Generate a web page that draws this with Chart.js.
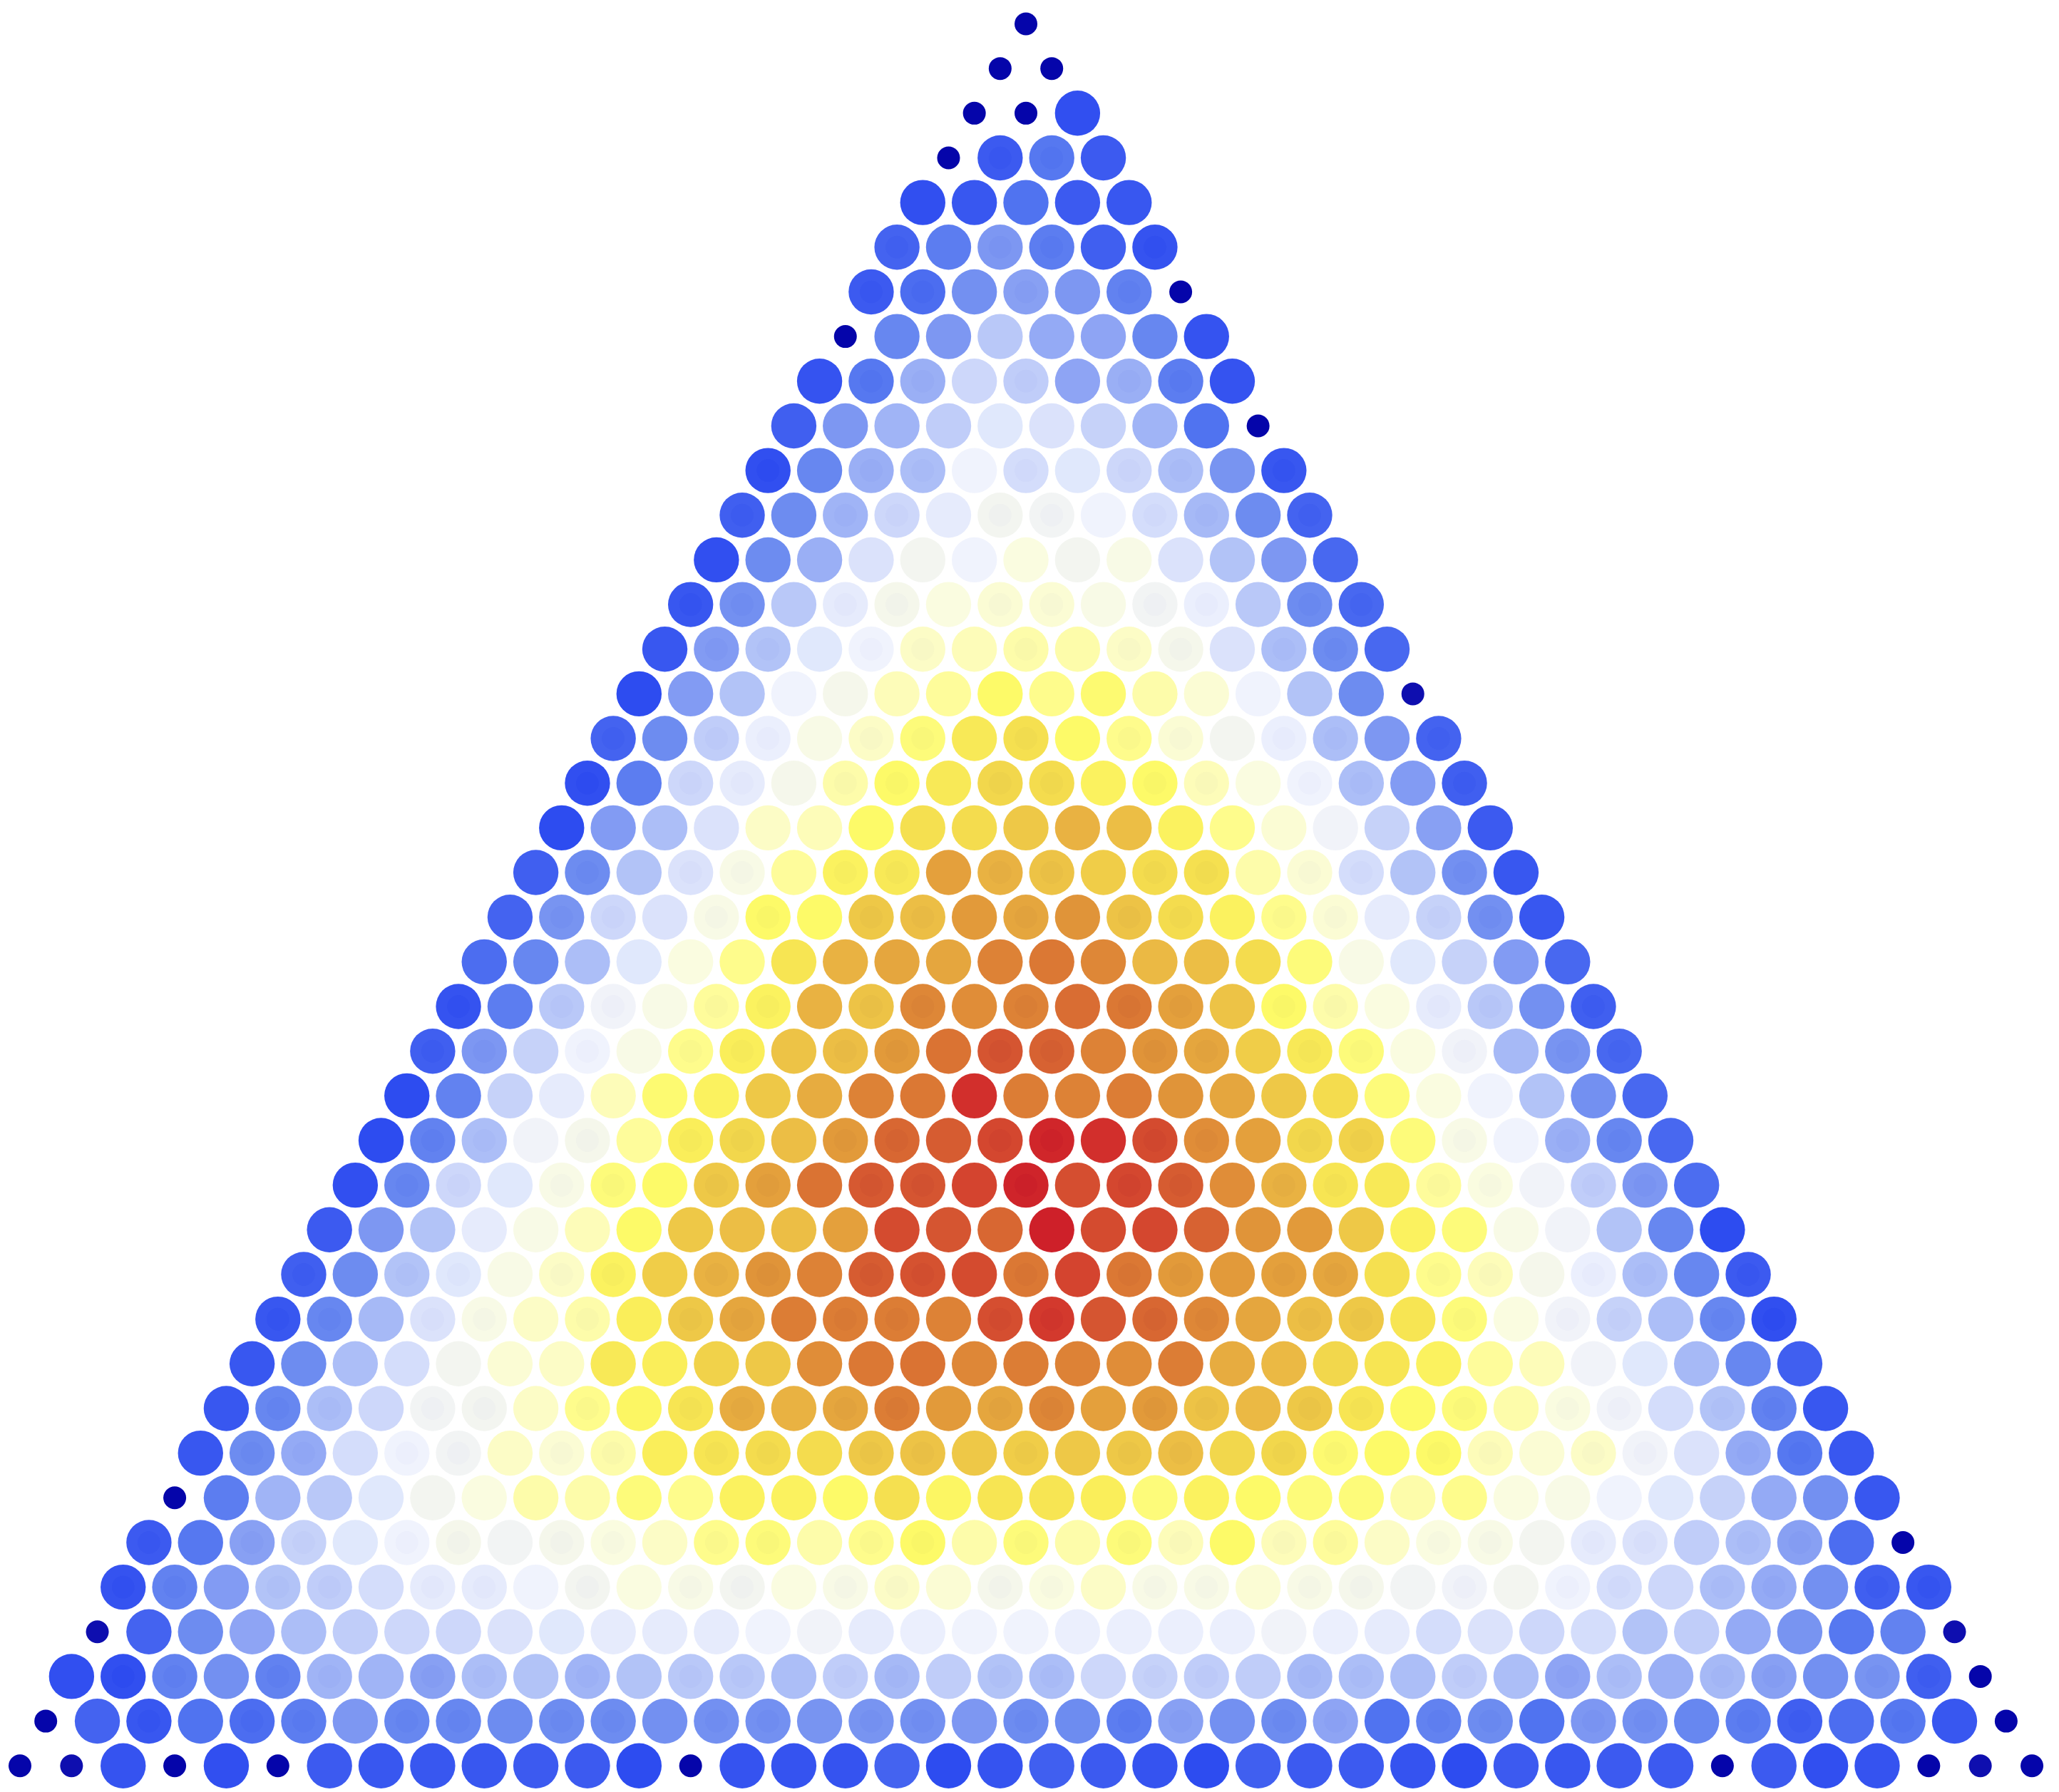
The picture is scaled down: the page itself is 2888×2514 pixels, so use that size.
<!DOCTYPE html>
<html><head><meta charset="utf-8">
<style>html,body{margin:0;padding:0;background:#fff}canvas{display:block}</style>
<script src="https://cdn.jsdelivr.net/npm/chart.js@4/dist/chart.umd.min.js"></script>
</head><body><canvas id="c" width="2888" height="2514"></canvas>
<script>
const D=-1, E=-2; // cells holding only the small dark dot
const row00=[D];
const row01=[D,D];
const row02=[D,D,1];
const row03=[D,4,10,4];
const row04=[1,3,9,4,3];
const row05=[6,11,17,11,5,2];
const row06=[4,8,15,19,17,12,D];
const row07=[D,13,17,27,21,20,13,2];
const row08=[2,10,22,30,28,20,22,11,2];
const row09=[5,17,23,28,33,32,29,23,9,D];
const row10=[1,13,22,25,36,31,33,30,25,16,3];
const row11=[5,14,23,30,34,39,38,36,31,24,14,6];
const row12=[1,14,22,32,39,36,42,39,41,32,26,17,7];
const row13=[3,15,27,34,40,42,43,43,41,38,35,27,14,7];
const row14=[3,18,26,33,36,44,45,46,46,44,40,32,25,14,7];
const row15=[0,18,26,36,40,45,47,50,48,49.5,46,43,36,26,14,E];
const row16=[6,14,28,35,41,44,49,54,56,50,48,43,39,35,25,17,6];
const row17=[1,11,30,34,40,46,50,54,58,57,52,50,45,42,36,25,18,5];
const row18=[0,18,25,32,44,45,50,56,57,61,65,63,52,48,43,37,29,19,4];
const row19=[5,14,26,32,41,47,52,54,68,65,62,60,57,56,46,43,31,26,15,3];
const row20=[6,16,30,32,41,50,50,61,63,69,67,70,62,57,52,48,43,34,29,15,3];
const row21=[8,13,25,33,42,48,55,65,67,67,73,75,72,64,63,57,49,41,33,29,18,7];
const row22=[2,11,27,37,41,47,52,65,62,72,71,73,77,75,68,62,50,46,42,34,27,15,5];
const row23=[5,17,29,36,41,48,53,62,63,69,76,82,79,73,70,67,60,54,49,42,37,24,16,7];
const row24=[0,12,29,34,45,49.5,52,61,66,73,75,93,74,73,74,70,67,61,57,49,42,36,26,15,7];
const row25=[0,12,25,37,40,47,53,58,63,69,78,80,86,97,93,85,71,68,58,59,49,41,36,22,13,7];
const row26=[1,13,30,33,41,49,50,61,68,76,81,82,87,98,84,86,80,71,65,55,54,47,42,37,28,17,8];
const row27=[4,17,26,34,41,45,50,61,63,63,68,85,82,78,100,85,86,79,70,69,61,52,49,41,37,26,13,0];
const row28=[5,14,26,33,41,44,52,60,65,70,73,80,83,85,75,87,75,69,69,68,67,56,48,45,40,35,25,13,4];
const row29=[3,13,24,32,41,44,46,53,61,67,74,74,74,73,84,90,82,78,72,67,63,61,55,49,42,37,29,25,13,1];
const row30=[3,14,25,31,39,43,44,54,53,59,61,71,75,76,72,74,73,71,74,66,64,58,55,52,47,45,37,33,24,13,5];
const row31=[3,13,25,30,38,39,44,48,51,55,66,65,67,74,69,67,72,68,69,62,64,61,55,50,49,46,42,37,31,26,12,3];
const row32=[3,14,21,31,36,38,44,43,46,53,55,57,57,61,62,61,60,61,61,63,58,58,49.5,50,50,45,43,44,37,32,21,10,3];
const row33=[D,11,23,27,33,39,42,46,46,49,48,52,52,50,56,51,55,55,53,49,52,50,49,49,46,48,42,41,36,33,29,21,15,3];
const row34=[4,10,19,29,33,36,40,38,40,42,44,48,49,46,48,50,46,49,46,49,45,50,45,47,44,42,41,39,34,32,28,25,19,8,D];
const row35=[2,12,18,26,28,31,34,34,36,39,42,41,39,42,41,44,43,40,42,44,41,41,43,41,40,38,37,39,36,31,30,25,21,15,5,3];
const row36=[E,6,14,20,25,28,30,30,32,33,34,34,34,36,37,34,35,36,36,35,35,35,35,37,35,34,31,32,30,31,26,28,21,16,10,12,E];
const row37=[1,1,12,15,12,23,23,19,25,26,23,26,27,27,25,28,24,28,26,25,30,29,28,28,24,25,25,28,25,20,25,22,24,19,15,16,5,D];
const row38=[D,6,3,9,8,11,17,13,13,14,14,14,15,15,15,16,16,15,17,14,14,11,19,15,14,20,9,12,14,9,17,15,13,11,5,8,10,3,D];
const row39=[D,E,2,D,1,D,4,3,3,3,4,4,0,D,2,2,2,6,0,2,5,4,2,0,5,4,4,2,0,4,3,4,4,D,4,1,2,D,E,D];
const rows=[row00,row01,row02,row03,row04,row05,row06,row07,row08,row09,row10,row11,row12,row13,row14,row15,row16,row17,row18,row19,row20,row21,row22,row23,row24,row25,row26,row27,row28,row29,row30,row31,row32,row33,row34,row35,row36,row37,row38,row39];

// 1 = a small dark dot sits under the large one
const innerDots=["","","","0110","","101101","1101010","","011010110","",
"10110101101","101101101101","","11011011011011","011011010110110","","10110110101101101","101101101101101101","","01011011011011011010",
"011011011010110110110","","10110110110101101101101","110101101101101101101011","","01101011011011011011010110","011011011011010110110110110","","10110110110110101101101101101","110110101101101101101101011011",
"","01101101011011011011011010110110","011011011011011010110110110110110","","10110110110110110101101101101101100","110110110101101101101101101011011011","","01101101101011011011011011010110110110","001011011011011011010110110110110110100",""];

const colorStops=[[0,46,76,240],[4,60,90,240],[9,80,115,240],[14,110,140,240],[18,130,155,243],[23,160,180,246],[27,185,200,248],[30,205,215,250],[33,225,232,252],[36,240,243,253],[39,243,245,240],[42,250,252,225],[45,253,252,185],[48,254,252,140],[50,253,250,105],[53,250,238,90],[56,245,225,80],[60,240,205,72],[64,235,185,68],[68,228,160,60],[72,222,135,55],[76,218,115,52],[80,214,92,50],[85,212,75,48],[92,210,50,45],[100,206,32,42]];
const overlayAlpha=0.983;
function colorOf(v){
  let k=0; while(k<colorStops.length-2&&v>colorStops[k+1][0])k++;
  const a=colorStops[k],b=colorStops[k+1],t=Math.min(1,Math.max(0,(v-a[0])/(b[0]-a[0])));
  const ch=[1,2,3].map(n=>{
    const out=a[n]+(b[n]-a[n])*t;
    return Math.round(Math.max(0,Math.min(255,(out-(1-overlayAlpha)*255)/overlayAlpha)));
  });
  return `rgba(${ch[0]},${ch[1]},${ch[2]},${overlayAlpha})`;
}
const big=[],small=[],bigColors=[],smallColors=[];
rows.forEach((row,r)=>row.forEach((v,i)=>{
  const p={x:i+(39-r)/2,y:r};
  if(v>=0){big.push(p);bigColors.push(colorOf(v));}
  if(v<0||(innerDots[r][i]==='1')){small.push(p);smallColors.push(v===E?'rgb(14,14,175)':'rgb(5,5,170)');}
}));
new Chart(document.getElementById('c'),{
  type:'scatter',
  data:{datasets:[
    {label:'large',data:big,order:0,pointRadius:31.7,pointHoverRadius:31.7,pointBorderWidth:0,pointBackgroundColor:bigColors,showLine:false},
    {label:'small',data:small,order:1,pointRadius:16,pointHoverRadius:16,pointBorderWidth:0,pointBackgroundColor:smallColors,showLine:false}
  ]},
  options:{
    responsive:false,animation:false,devicePixelRatio:1,
    layout:{padding:0,autoPadding:false},
    plugins:{legend:{display:false},tooltip:{enabled:false},title:{display:false}},
    scales:{
      x:{type:'linear',display:false,min:-28/72.36,max:(2888-28)/72.36},
      y:{type:'linear',display:false,reverse:true,min:-33.5/62.66,max:(2514-33.5)/62.66}
    }
  }
});
</script></body></html>
